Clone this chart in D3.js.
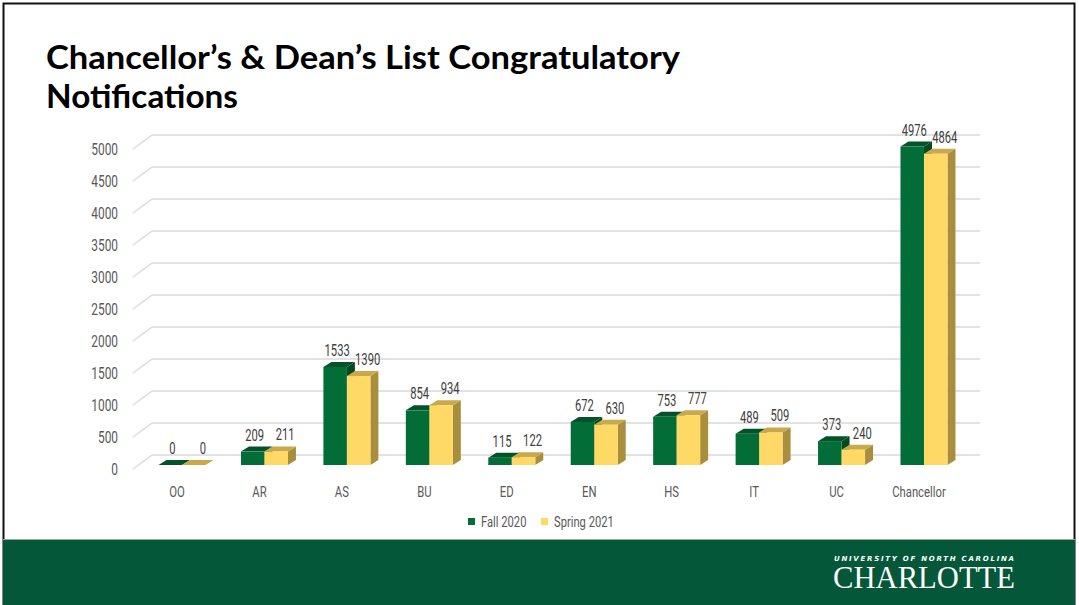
<!DOCTYPE html>
<html>
<head>
<meta charset="utf-8">
<script src="https://cdn.jsdelivr.net/npm/d3@7"></script>
<style>
  html, body { margin: 0; padding: 0; background: #fff; }
  svg { display: block; }
</style>
</head>
<body>
<div id="chart"></div>
<script>
// data
var categories = ["OO", "AR", "AS", "BU", "ED", "EN", "HS", "IT", "UC", "Chancellor"];
var fall2020 = [0, 209, 1533, 854, 115, 672, 753, 489, 373, 4976];
var spring2021 = [0, 211, 1390, 934, 122, 630, 777, 509, 240, 4864];
var seriesNames = ["Fall 2020", "Spring 2021"];
var yTicks = [0, 500, 1000, 1500, 2000, 2500, 3000, 3500, 4000, 4500, 5000];

var W = 1079, H = 605;
// no condensed face installed, so squeeze Roboto horizontally
var font = "Roboto, sans-serif";
function squeeze(px, py, sx) {
    return "translate(" + px + "," + py + ") scale(" + sx + ",1)";
}

var svg = d3.select("#chart").append("svg")
    .attr("width", W)
    .attr("height", H);

// slide frame
svg.append("rect")
    .attr("x", 3.5).attr("y", 3.5)
    .attr("width", 1071).attr("height", 640)
    .attr("fill", "#fff")
    .attr("stroke", "#111")
    .attr("stroke-width", 2);

// footer band
svg.append("rect")
    .attr("x", 3).attr("y", 539)
    .attr("width", 1072).attr("height", 66)
    .attr("fill", "#05573a");
svg.append("line")
    .attr("x1", 3).attr("x2", 1075)
    .attr("y1", 539.5).attr("y2", 539.5)
    .attr("stroke", "#9aa8a0").attr("stroke-width", 1);

// title
var title = svg.append("text")
    .attr("font-family", "Lato, 'Noto Sans', sans-serif")
    .attr("font-weight", "bold")
    .attr("font-size", 32)
    .attr("fill", "#000");
title.append("tspan").attr("x", 46).attr("y", 69)
    .attr("textLength", 634).attr("lengthAdjust", "spacingAndGlyphs")
    .text("Chancellor\u2019s & Dean\u2019s List Congratulatory");
title.append("tspan").attr("x", 46).attr("y", 108)
    .attr("textLength", 192).attr("lengthAdjust", "spacingAndGlyphs")
    .text("Notifications");

// scales
var x = d3.scaleBand()
    .domain(categories)
    .range([140.8, 965.2])
    .paddingInner(0.43)
    .paddingOuter(0.215);

var sub = d3.scaleBand()
    .domain(seriesNames)
    .range([0, x.bandwidth()]);

var yBack = d3.scaleLinear().domain([0, 5000]).range([455, 135]);
var yBar = d3.scaleLinear().domain([0, 5000]).range([465, 145]);

var wallDx = 19, wallDy = 14;   // depth of the side wall
var barDx = 8, barDy = 5;       // depth of each bar

// gridlines on back wall + left wall
var grid = svg.append("g");
grid.selectAll("line.back")
    .data(yTicks)
    .enter().append("line")
    .attr("x1", 133 + wallDx).attr("x2", 980)
    .attr("y1", function(d) { return yBack(d); })
    .attr("y2", function(d) { return yBack(d); })
    .attr("stroke", "#d9d9d9").attr("stroke-width", 1.3);
grid.selectAll("line.side")
    .data(yTicks)
    .enter().append("line")
    .attr("x1", 133).attr("x2", 133 + wallDx)
    .attr("y1", function(d) { return yBack(d) + wallDy; })
    .attr("y2", function(d) { return yBack(d); })
    .attr("stroke", "#d9d9d9").attr("stroke-width", 1.3);

// y tick labels
svg.append("g").selectAll("text")
    .data(yTicks)
    .enter().append("text")
    .attr("transform", function(d) { return squeeze(118, yBack(d) + wallDy, 0.7); })
    .attr("dy", "0.36em")
    .attr("text-anchor", "end")
    .attr("font-family", font)
    .attr("font-size", 17)
    .attr("fill", "#595959")
    .text(function(d) { return d; });

// bars
var palette = {
    "Fall 2020": { front: "#036d38", top: "#02522a", side: "#014a25" },
    "Spring 2021": { front: "#fed966", top: "#c9a94c", side: "#a98e3d" }
};
var labelShift = { "Fall 2020": 2, "Spring 2021": 9 };

var rows = [];
categories.forEach(function(c, i) {
    rows.push({ cat: c, series: "Fall 2020", value: fall2020[i] });
    rows.push({ cat: c, series: "Spring 2021", value: spring2021[i] });
});

var bars = svg.append("g").selectAll("g")
    .data(rows)
    .enter().append("g");

bars.each(function(d) {
    var g = d3.select(this);
    var x0 = x(d.cat) + sub(d.series);
    var w = sub.bandwidth();
    var y0 = yBar(0);
    var y1 = yBar(d.value);
    var col = palette[d.series];
    // side
    g.append("path")
        .attr("d", "M" + (x0 + w) + "," + y1 + "L" + (x0 + w + barDx) + "," + (y1 - barDy) +
            "L" + (x0 + w + barDx) + "," + (y0 - barDy) + "L" + (x0 + w) + "," + y0 + "Z")
        .attr("fill", col.side);
    // top
    g.append("path")
        .attr("d", "M" + x0 + "," + y1 + "L" + (x0 + barDx) + "," + (y1 - barDy) +
            "L" + (x0 + w + barDx) + "," + (y1 - barDy) + "L" + (x0 + w) + "," + y1 + "Z")
        .attr("fill", col.top);
    // front
    g.append("rect")
        .attr("x", x0).attr("y", y1)
        .attr("width", w).attr("height", y0 - y1)
        .attr("fill", col.front);
});

// value labels
svg.append("g").selectAll("text")
    .data(rows)
    .enter().append("text")
    .attr("transform", function(d) {
        return squeeze(x(d.cat) + sub(d.series) + sub.bandwidth() / 2 + labelShift[d.series],
            yBar(d.value) - 11, 0.7);
    })
    .attr("text-anchor", "middle")
    .attr("font-family", font)
    .attr("font-size", 16)
    .attr("fill", "#404040")
    .text(function(d) { return d.value; });

// category labels
svg.append("g").selectAll("text")
    .data(categories)
    .enter().append("text")
    .attr("transform", function(d) { return squeeze(x(d) + x.bandwidth() / 2 - 5, 497, 0.78); })
    .attr("text-anchor", "middle")
    .attr("font-family", font)
    .attr("font-size", 14.5)
    .attr("fill", "#595959")
    .text(function(d) { return d; });

// legend
var legendX = [468, 541];
var legend = svg.append("g").selectAll("g")
    .data(seriesNames)
    .enter().append("g")
    .attr("transform", function(d, i) { return "translate(" + legendX[i] + ",518)"; });
legend.append("rect")
    .attr("width", 7).attr("height", 7)
    .attr("fill", function(d) { return palette[d].front; });
legend.append("text")
    .attr("transform", squeeze(13, 4, 0.8))
    .attr("dy", "0.36em")
    .attr("font-family", font)
    .attr("font-size", 14)
    .attr("fill", "#595959")
    .text(function(d) { return d; });

// logo
svg.append("text")
    .attr("x", 834).attr("y", 561)
    .attr("textLength", 180).attr("lengthAdjust", "spacing")
    .attr("font-family", "'DejaVu Sans', sans-serif")
    .attr("font-weight", "bold")
    .attr("font-style", "italic")
    .attr("font-size", 7)
    .attr("fill", "#fff")
    .text("UNIVERSITY OF NORTH CAROLINA");
svg.append("text")
    .attr("x", 833).attr("y", 588)
    .attr("textLength", 182).attr("lengthAdjust", "spacingAndGlyphs")
    .attr("font-family", "'Liberation Serif', serif")
    .attr("font-size", 31)
    .attr("fill", "#fff")
    .text("CHARLOTTE");
</script>
</body>
</html>
